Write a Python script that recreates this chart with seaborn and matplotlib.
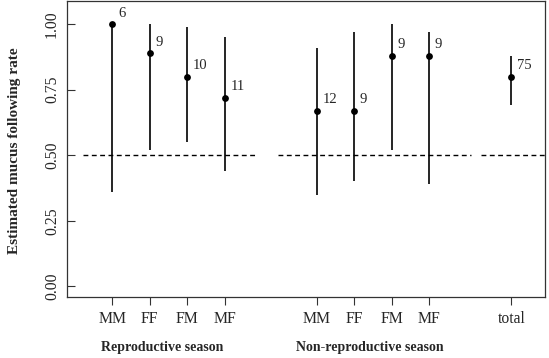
"""
Estimated mucus following rate by pair type and season
"""

# Libraries
import numpy as np
import pandas as pd
import seaborn as sns
import matplotlib as mpl
import matplotlib.pyplot as plt

# -------------------------
# Data
# -------------------------
labels = ['MM', 'FF', 'FM', 'MF', 'MM', 'FF', 'FM', 'MF', 'total']
season = ['Reproductive season'] * 4 + ['Non-reproductive season'] * 4 + ['total']
rate = [1.00, 0.89, 0.80, 0.72, 0.67, 0.67, 0.88, 0.88, 0.80]
lower = [0.36, 0.52, 0.55, 0.44, 0.35, 0.40, 0.52, 0.39, 0.69]
upper = [1.00, 1.00, 0.99, 0.95, 0.91, 0.97, 1.00, 0.97, 0.88]
n_obs = [6, 9, 10, 11, 12, 9, 9, 9, 75]

# x positions of each group (layout)
xpos = [1, 2, 3, 4, 6.46, 7.46, 8.46, 9.46, 11.65]

# Reference (chance) line segments
ref_level = 0.5
ref_start = [0.21, 5.41, 10.85]
ref_end = [4.90, 10.56, 12.6]

# Group captions below the axis
group_names = ['Reproductive season', 'Non-reproductive season']
group_x = [2.33, 7.86]

df = pd.DataFrame({'x': xpos, 'label': labels, 'season': season,
                   'rate': rate, 'lower': lower, 'upper': upper, 'n': n_obs})

# -------------------------
# Configuration
# -------------------------
sns.set_theme(style="white")
mpl.rcParams['font.family'] = ['Liberation Serif', 'DejaVu Serif']
mpl.rcParams['xtick.labelsize'] = 11.3
mpl.rcParams['ytick.labelsize'] = 11.3

# -------------------------
# Plot
# -------------------------
f, ax = plt.subplots(1, 1, figsize=(5.49, 3.58), dpi=100)
f.subplots_adjust(left=0.122, right=0.993, bottom=0.171, top=0.997)

# Confidence intervals
ax.vlines(df.x, df.lower, df.upper, color='black', linewidth=1.2)

# Reference line
ax.hlines([ref_level] * len(ref_start), ref_start, ref_end,
          color='black', linewidth=1.0, linestyles=(0, (3.5, 2.5)))

# Points
sns.scatterplot(data=df, x='x', y='rate', color='black', s=24,
                edgecolor='black', linewidth=0, ax=ax, zorder=3)

# Sample sizes
for _, r in df.iterrows():
    ax.annotate(str(r.n), (r.x, r.rate), xytext=(4, 3),
                textcoords='offset points', fontsize=10.5,
                ha='left', va='bottom')

# Axes
ax.set_xlim(-0.21, 12.55)
ax.set_ylim(-0.040, 1.088)
ax.set_xticks(xpos)
ax.set_xticklabels(labels)
ax.set_yticks([0, 0.25, 0.5, 0.75, 1.0])
ax.set_yticklabels(['0.00', '0.25', '0.50', '0.75', '1.00'],
                   rotation=90, va='center')
ax.tick_params(axis='y', direction='in', length=6, width=0.8,
               pad=5, left=True, color='#333333')
ax.tick_params(axis='x', direction='out', length=6, width=0.8,
               pad=4.5, bottom=True, color='#333333')
ax.set_xlabel('')
ax.set_ylabel('')

for s in ax.spines.values():
    s.set_visible(True)
    s.set_color('#333333')
    s.set_linewidth(0.9)

# Labels
f.text(15 / 549, 1 - 151 / 358, 'Estimated mucus following rate',
       rotation=90, ha='center', va='center', fontsize=11,
       fontweight='bold')
trans = mpl.transforms.blended_transform_factory(ax.transData, f.transFigure)
for name, gx in zip(group_names, group_x):
    ax.text(gx, 1 - 347 / 358, name, transform=trans,
            ha='center', va='center', fontsize=10, fontweight='bold')

# Save
plt.savefig('out.png', dpi=100)
